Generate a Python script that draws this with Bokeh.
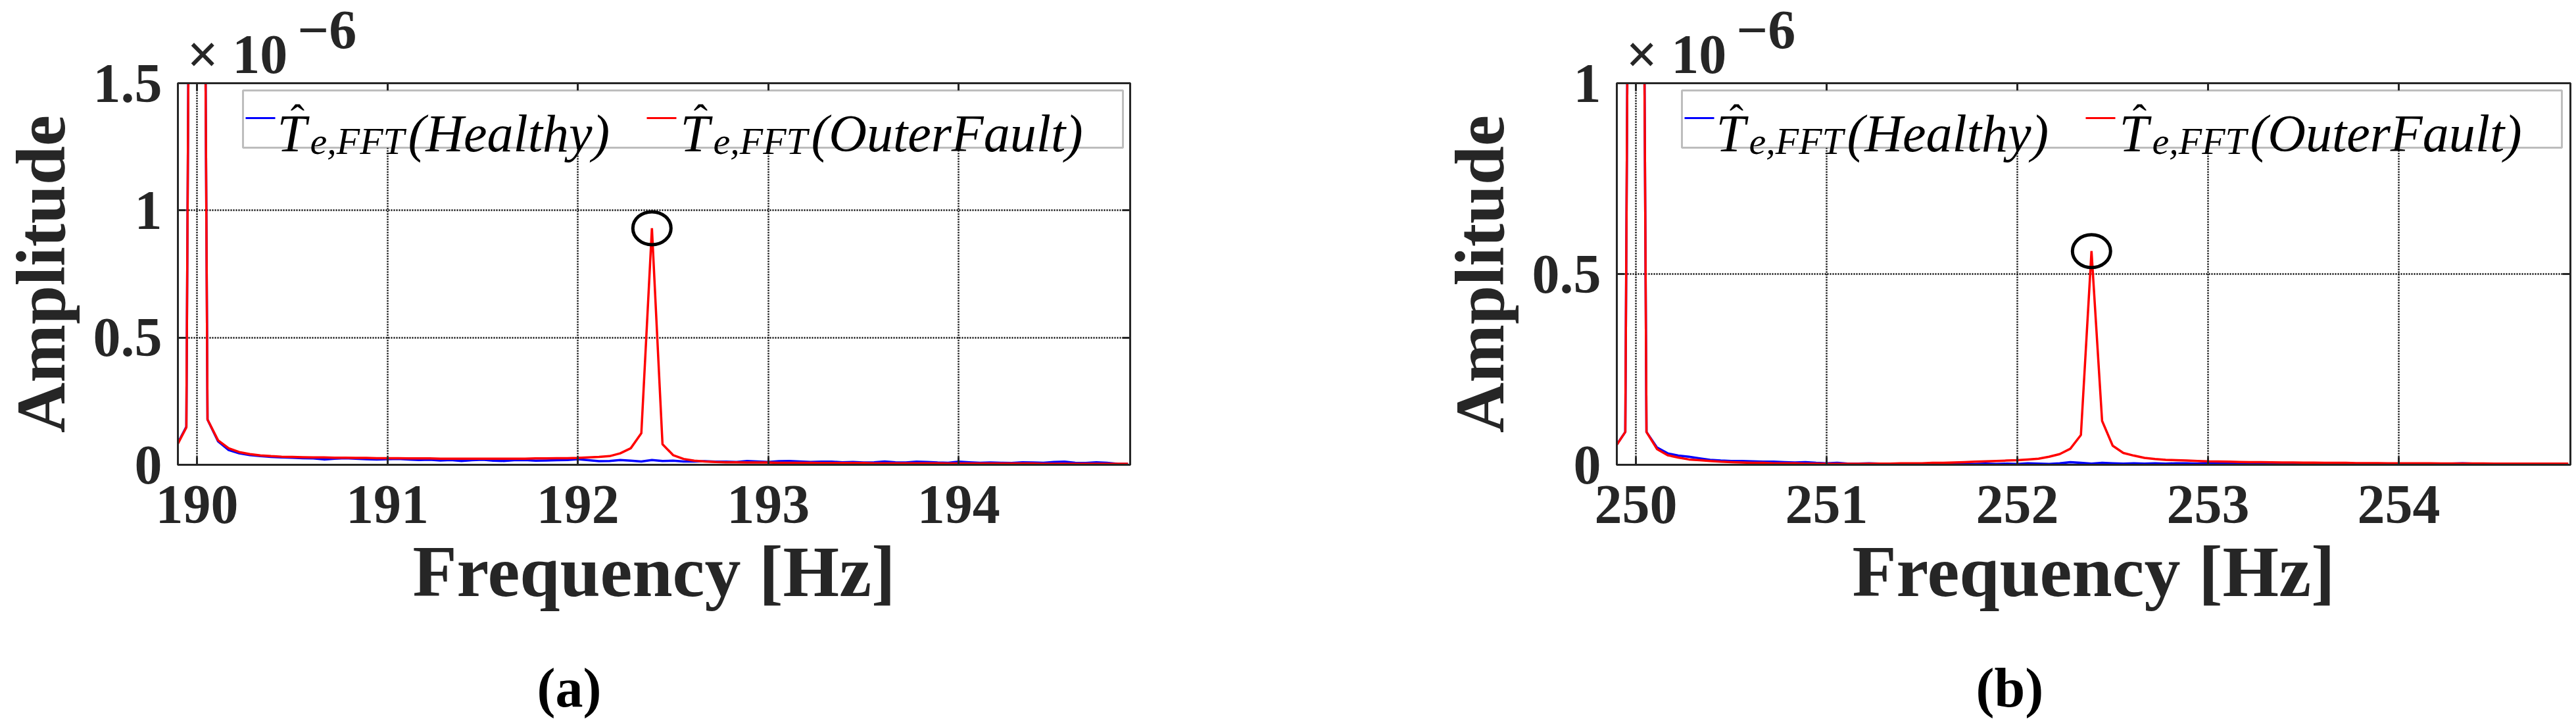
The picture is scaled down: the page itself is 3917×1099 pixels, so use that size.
import numpy as np
from bokeh.plotting import figure
from bokeh.layouts import row
from bokeh.models import (Range1d, FixedTicker, LinearAxis, Label, BoxAnnotation, Title,
                          NumeralTickFormatter, CustomJSTickFormatter)
from bokeh.embed import file_html
from bokeh.resources import INLINE

# ---------------- data (amplitudes in units of 1e-6) ----------------
# FFT bin indices; frequency resolution of the spectrum is 1/18 Hz
bins_a = np.arange(3418, 3509)
bins_b = np.arange(4498, 4589)
freq_a = bins_a / 18.0
freq_b = bins_b / 18.0

healthy_a = [0.070, 0.150, 7.5, 0.178, 0.092, 0.058, 0.045, 0.038, 0.034, 0.031,
             0.029, 0.028, 0.026, 0.025, 0.021, 0.024, 0.026, 0.024, 0.022, 0.021,
             0.022, 0.023, 0.021, 0.019, 0.020, 0.017, 0.019, 0.015, 0.018, 0.020,
             0.016, 0.015, 0.018, 0.019, 0.016, 0.017, 0.018, 0.019, 0.022, 0.018,
             0.014, 0.015, 0.019, 0.016, 0.013, 0.019, 0.015, 0.016, 0.013, 0.013,
             0.014, 0.012, 0.012, 0.011, 0.015, 0.013, 0.011, 0.014, 0.015, 0.013,
             0.011, 0.012, 0.012, 0.010, 0.011, 0.009, 0.010, 0.013, 0.010, 0.009,
             0.012, 0.011, 0.009, 0.008, 0.012, 0.010, 0.008, 0.009, 0.008, 0.007,
             0.010, 0.009, 0.008, 0.011, 0.012, 0.008, 0.007, 0.010, 0.008, 0.004, 0.003]

fault_a = [0.067, 0.147, 7.5, 0.178, 0.096, 0.065, 0.050, 0.042, 0.037, 0.034,
           0.032, 0.031, 0.030, 0.029, 0.029, 0.028, 0.028, 0.027, 0.027, 0.026,
           0.026, 0.026, 0.025, 0.025, 0.025, 0.024, 0.024, 0.024, 0.024, 0.024,
           0.024, 0.024, 0.024, 0.024, 0.025, 0.025, 0.026, 0.026, 0.027, 0.029,
           0.031, 0.034, 0.045, 0.065, 0.124, 0.930, 0.081, 0.038, 0.023, 0.016,
           0.013, 0.011, 0.010, 0.010, 0.009, 0.009, 0.009, 0.008, 0.008, 0.008,
           0.008, 0.007, 0.007, 0.007, 0.007, 0.007, 0.006, 0.006, 0.006, 0.006,
           0.006, 0.006, 0.006, 0.005, 0.005, 0.005, 0.005, 0.005, 0.005, 0.005,
           0.005, 0.005, 0.004, 0.004, 0.004, 0.004, 0.004, 0.004, 0.004, 0.004, 0.004]

healthy_b = [0.045, 0.086, 5.0, 0.086, 0.045, 0.030, 0.024, 0.021, 0.017, 0.013,
             0.011, 0.010, 0.010, 0.009, 0.008, 0.008, 0.007, 0.006, 0.007, 0.005,
             0.004, 0.005, 0.003, 0.003, 0.004, 0.003, 0.003, 0.002, 0.002, 0.003,
             0.002, 0.002, 0.003, 0.003, 0.002, 0.003, 0.002, 0.003, 0.002, 0.004,
             0.003, 0.002, 0.004, 0.007, 0.005, 0.003, 0.005, 0.004, 0.003, 0.004,
             0.003, 0.004, 0.003, 0.004, 0.004, 0.003, 0.005, 0.003, 0.004, 0.002,
             0.003, 0.002, 0.003, 0.002, 0.002, 0.003, 0.002, 0.002, 0.003, 0.002,
             0.002, 0.003, 0.002, 0.002, 0.003, 0.002, 0.001, 0.002, 0.002, 0.003,
             0.004, 0.003, 0.002, 0.002, 0.001, 0.002, 0.002, 0.001, 0.002, 0.001, 0.001]

fault_b = [0.044, 0.086, 5.0, 0.086, 0.041, 0.025, 0.019, 0.014, 0.012, 0.010,
           0.008, 0.007, 0.006, 0.005, 0.005, 0.004, 0.004, 0.004, 0.003, 0.003,
           0.0025, 0.0025, 0.0025, 0.0025, 0.003, 0.003, 0.003, 0.004, 0.004, 0.004,
           0.005, 0.005, 0.006, 0.007, 0.008, 0.009, 0.010, 0.011, 0.012, 0.014,
           0.016, 0.021, 0.028, 0.042, 0.078, 0.560, 0.115, 0.050, 0.031, 0.024,
           0.018, 0.015, 0.013, 0.012, 0.011, 0.010, 0.009, 0.0085, 0.008, 0.0075,
           0.007, 0.007, 0.0065, 0.006, 0.006, 0.0055, 0.0055, 0.005, 0.005, 0.005,
           0.0045, 0.0045, 0.0045, 0.004, 0.004, 0.004, 0.004, 0.004, 0.0035, 0.0035,
           0.0035, 0.0035, 0.0035, 0.003, 0.003, 0.003, 0.003, 0.003, 0.003, 0.003, 0.003]

xlim_a = [189.9, 194.9]
xlim_b = [249.9, 254.9]
ylim_a = [0, 1.5]
ylim_b = [0, 1.0]
xticks_a = [190, 191, 192, 193, 194]
xticks_b = [250, 251, 252, 253, 254]
yticks_a = [0, 0.5, 1, 1.5]
yticks_b = [0, 0.5, 1]
captions = ["(a)", "(b)"]
series_names = ["(Healthy)", "(OuterFault)"]
mult_base = "×\u00a010"
mult_exp = "−6"

# ---------------- style ----------------
FONT = "Liberation Serif"
AX = "#262626"
FRAME_H = 580
TOP = 125
BOTTOM = 378
NBSP = "\u00a0"


def style_axis(ax, ticks, fmt=None):
    ax.ticker = FixedTicker(ticks=ticks)
    if fmt is not None:
        ax.formatter = fmt
    ax.axis_line_color = AX
    ax.axis_line_width = 3
    ax.major_tick_line_color = AX
    ax.major_tick_line_width = 3
    ax.major_tick_in = 12
    ax.major_tick_out = 0
    ax.minor_tick_line_color = None
    ax.major_label_text_font = FONT
    ax.major_label_text_font_style = "bold"
    ax.major_label_text_font_size = "84px"
    ax.major_label_text_color = AX
    ax.axis_label_text_font = FONT
    ax.axis_label_text_font_style = "bold"
    ax.axis_label_text_color = AX


def make_panel(freq, healthy, fault, xlim, ylim, xticks, yticks, caption, frame_w, border_r):
    p = figure(frame_width=frame_w, frame_height=FRAME_H,
               x_range=Range1d(*xlim), y_range=Range1d(*ylim),
               output_backend="svg", toolbar_location=None, tools="",
               title_location=None,
               min_border_left=262, min_border_right=border_r,
               min_border_top=TOP, min_border_bottom=BOTTOM,
               x_axis_label="Frequency [Hz]", y_axis_label="Amplitude")
    p.background_fill_color = "white"
    p.border_fill_color = "white"
    p.outline_line_color = AX
    p.outline_line_width = 3

    xa = p.xaxis[0]
    ya = p.yaxis[0]
    style_axis(xa, xticks)
    style_axis(ya, yticks, NumeralTickFormatter(format="0.[0]"))
    xa.major_label_standoff = 32
    xa.axis_label_standoff = 10
    xa.axis_label_text_font_size = "110px"
    ya.major_label_standoff = 24
    ya.axis_label_standoff = 18
    ya.axis_label_text_font_size = "106px"

    top = LinearAxis()
    style_axis(top, xticks, CustomJSTickFormatter(code="return '';"))
    top.major_label_text_font_size = "0px"
    top.major_label_standoff = 0
    p.add_layout(top, "above")
    right = LinearAxis()
    style_axis(right, yticks, CustomJSTickFormatter(code="return '';"))
    right.major_label_text_font_size = "0px"
    right.major_label_standoff = 0
    p.add_layout(right, "right")

    # x10^-6 multiplier above the y axis (two-line side-panel title: exponent raised)
    p.add_layout(Title(text=NBSP * 8 + mult_exp + "\n" + mult_base,
                       align="left", offset=14, standoff=-6,
                       text_font=FONT, text_font_style="bold", text_font_size="84px",
                       text_line_height=0.40, text_color=AX), "above")

    # sub-figure caption below the x-axis label (empty first line pushes it down)
    p.add_layout(Title(text="\n" + caption, align="left", offset=546, standoff=0,
                       vertical_align="bottom",
                       text_font=FONT, text_font_style="bold", text_font_size="84px",
                       text_line_height=0.70, text_color="black"), "below")

    p.xgrid.ticker = FixedTicker(ticks=xticks)
    p.ygrid.ticker = FixedTicker(ticks=yticks)
    p.grid.grid_line_color = "black"
    p.grid.grid_line_dash = "2 2"
    p.grid.grid_line_width = 2.5

    p.line(freq, healthy, line_color="#0000FF", line_width=3.5)
    p.line(freq, fault, line_color="#FF0000", line_width=3.5)

    # circle around the fault characteristic peak
    fault_arr = np.asarray(fault)
    idx = int(np.argmax(np.where(np.asarray(freq) > xticks[1], fault_arr, -np.inf)))
    p.ellipse(x=[freq[idx]], y=[fault_arr[idx]], width=58, height=50,
              width_units="screen", height_units="screen",
              fill_color=None, line_color="black", line_width=5)

    # legend (drawn manually to get the hatted, subscripted symbol)
    p.add_layout(BoxAnnotation(left=99, right=1437, top=FRAME_H - 11, bottom=FRAME_H - 98,
                               left_units="screen", right_units="screen",
                               top_units="screen", bottom_units="screen",
                               fill_color="white", fill_alpha=1.0,
                               line_color=AX, line_width=3, level="annotation"))
    items = [(103, 151, "#0000FF", series_names[0]), (713, 764, "#FF0000", series_names[1])]
    for dash_x, tx, col, name in items:
        p.add_layout(BoxAnnotation(left=dash_x, right=dash_x + 45,
                                   top=FRAME_H - 51.5, bottom=FRAME_H - 54.5,
                                   left_units="screen", right_units="screen",
                                   top_units="screen", bottom_units="screen",
                                   fill_color=col, fill_alpha=1.0, line_color=None,
                                   level="overlay"))
        base = FRAME_H - 76
        p.add_layout(Label(x=tx, y=base, x_units="screen", y_units="screen", text="T",
                           text_font=FONT, text_font_style="italic", text_font_size="80px",
                           text_color="black", text_baseline="alphabetic", text_align="left",
                           level="overlay"))
        p.add_layout(Label(x=tx + 31, y=FRAME_H - 55, x_units="screen", y_units="screen", text="ˆ",
                           text_font=FONT, text_font_size="64px",
                           text_color="black", text_baseline="alphabetic", text_align="center",
                           level="overlay"))
        p.add_layout(Label(x=tx + 50, y=FRAME_H - 88, x_units="screen", y_units="screen", text="e,FFT",
                           text_font=FONT, text_font_style="italic", text_font_size="58px",
                           text_color="black", text_baseline="alphabetic", text_align="left",
                           level="overlay"))
        p.add_layout(Label(x=tx + 50 + 149, y=base, x_units="screen", y_units="screen", text=name,
                           text_font=FONT, text_font_style="italic", text_font_size="80px",
                           text_color="black", text_baseline="alphabetic", text_align="left",
                           level="overlay"))
    return p


pa = make_panel(freq_a, healthy_a, fault_a, xlim_a, ylim_a, xticks_a, yticks_a, captions[0], 1448, 470)
pb = make_panel(freq_b, healthy_b, fault_b, xlim_b, ylim_b, xticks_b, yticks_b, captions[1], 1450, 9)

layout = row(pa, pb)
open("out.html", "w").write(file_html(layout, INLINE, title="FFT amplitude spectra"))
